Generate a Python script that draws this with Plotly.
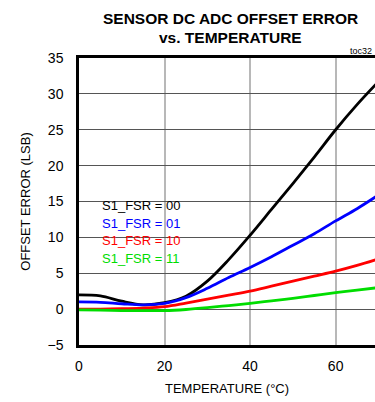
import plotly.graph_objects as go

temps = [0, 5, 10, 15, 20, 25, 30, 35, 40, 45, 50, 55, 60, 65, 70]
fsr00 = [2.0, 1.85, 1.1, 0.6, 0.9, 1.8, 3.9, 6.9, 10.3, 13.9, 17.5, 21.2, 25.0, 28.5, 31.7]
fsr01 = [1.0, 0.95, 0.75, 0.6, 0.8, 1.6, 2.9, 4.4, 5.8, 7.3, 8.9, 10.5, 12.3, 14.0, 15.9]
fsr10 = [0.0, 0.0, 0.05, 0.15, 0.35, 0.85, 1.4, 1.95, 2.5, 3.2, 3.9, 4.6, 5.3, 6.1, 7.0]
fsr11 = [-0.1, -0.15, -0.2, -0.2, -0.2, -0.05, 0.2, 0.5, 0.8, 1.15, 1.5, 1.9, 2.3, 2.65, 3.0]

series = [
    ("S1_FSR = 00", fsr00, "#000000"),
    ("S1_FSR = 01", fsr01, "#0000ff"),
    ("S1_FSR = 10", fsr10, "#ff0000"),
    ("S1_FSR = 11", fsr11, "#00dd00"),
]

title_lines = ["SENSOR DC ADC OFFSET ERROR", "vs. TEMPERATURE"]

FONT = "Liberation Sans, Arial, sans-serif"

fig = go.Figure()
for name, ys, col in series:
    fig.add_trace(go.Scatter(x=temps, y=ys, mode="lines", name=name,
                             line=dict(color=col, width=2.8, shape="spline"),
                             showlegend=False))

# curve labels
label_y = [14.4, 12.0, 9.5, 7.0]
for (name, ys, col), ly in zip(series, label_y):
    fig.add_annotation(x=4.9, y=ly, xref="x", yref="y", text=name,
                       showarrow=False, xanchor="left", yanchor="middle",
                       font=dict(family=FONT, size=13, color=col))

# title lines (positioned in paper coords relative to plot area)
title_x = (230 - 79) / (375 - 79)
for txt, yy in zip(title_lines, [1.1376, 1.0697]):
    fig.add_annotation(x=title_x, y=yy, xref="paper", yref="paper",
                       text="<b>" + txt + "</b>", showarrow=False,
                       xanchor="center", yanchor="middle",
                       font=dict(family=FONT, size=15.5, color="#000"))

fig.add_annotation(x=1, y=1, xref="paper", yref="paper", text="toc32",
                   showarrow=False, xanchor="right", yanchor="bottom",
                   font=dict(family=FONT, size=9, color="#000"), xshift=-1)

fig.update_layout(
    width=375, height=402,
    margin=dict(l=79, r=0, t=58, b=57),
    paper_bgcolor="white", plot_bgcolor="white",
    font=dict(family=FONT, size=14, color="#000"),
    xaxis=dict(range=[0, 69.2], tickvals=[0, 20, 40, 60], showgrid=True,
               gridcolor="#b8b8b8", gridwidth=1.5, zeroline=False,
               showline=True, linecolor="#000", linewidth=2.5, mirror=True,
               ticks="", ticklabelstandoff=6, automargin=False,
               title=dict(text="TEMPERATURE (°C)", standoff=12,
                          font=dict(family=FONT, size=13))),
    yaxis=dict(range=[-5, 35], dtick=5, showgrid=True, gridcolor="#555555",
               gridwidth=1, zeroline=False, showline=True, linecolor="#000",
               linewidth=2.5, ticks="", ticklabelstandoff=10, automargin=False,
               title=dict(text="OFFSET ERROR (LSB)", standoff=14,
                          font=dict(family=FONT, size=13))),
)

fig.write_html("out.html", config={"displayModeBar": False},
               post_script="document.body.style.margin='0';document.body.style.overflow='hidden';")
